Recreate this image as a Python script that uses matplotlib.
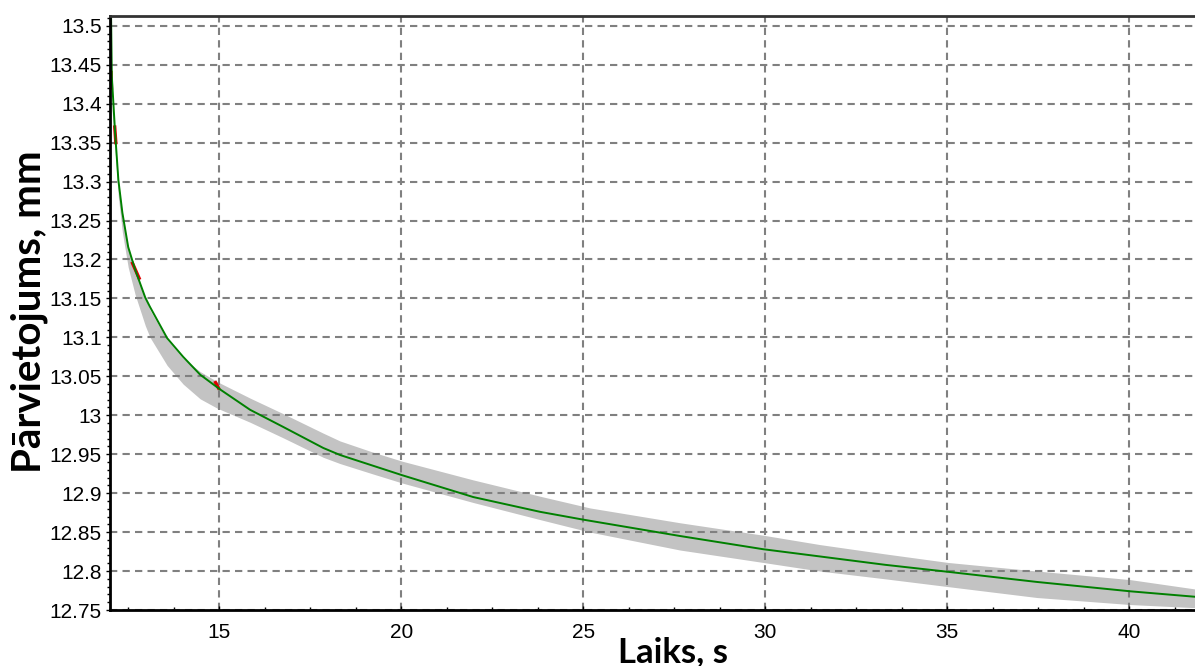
"""
Displacement vs time: measured band (gray) with fitted curve (green)
"""

import numpy as np
import matplotlib
matplotlib.use('Agg')
from matplotlib import pyplot as plt
from matplotlib.ticker import MultipleLocator, AutoMinorLocator, FuncFormatter

# fitted curve
fit_t = [12.03, 12.05, 12.14, 12.23, 12.34, 12.5, 12.69, 12.97, 13.10, 13.57,
         14.01, 14.48, 15.03, 15.85, 16.76, 17.86, 18.32, 20.03, 21.98, 23.82,
         25.0, 27.66, 29.95, 30.96, 33.3, 35.03, 37.47, 40.03, 41.81]
fit_d = [13.511, 13.435, 13.363, 13.302, 13.26, 13.216, 13.187, 13.151, 13.139, 13.099,
         13.075, 13.052, 13.033, 13.007, 12.985, 12.958, 12.949, 12.923, 12.895, 12.876,
         12.866, 12.845, 12.828, 12.822, 12.808, 12.799, 12.786, 12.774, 12.767]

# measured signal envelope (gray band)
meas_t = [12.06, 12.14, 12.23, 12.34, 12.5, 12.69, 12.97, 13.1, 13.57, 14.01,
          14.48, 14.95, 15.85, 16.76, 17.86, 18.32, 19.2, 20.03, 21.98, 23.82, 25.19,
          27.66, 29.95, 31.5, 33.3, 35.03, 37.47, 40.03, 41.81]
meas_hi = [13.41, 13.36, 13.30, 13.26, 13.215, 13.185, 13.15, 13.135, 13.097, 13.073,
           13.056, 13.043, 13.022, 13.002, 12.977, 12.967, 12.953, 12.941, 12.917, 12.896, 12.881,
           12.862, 12.846, 12.834, 12.822, 12.811, 12.800, 12.789, 12.777]
meas_lo = [13.39, 13.34, 13.28, 13.235, 13.19, 13.155, 13.115, 13.100, 13.064, 13.040,
           13.021, 13.009, 12.991, 12.971, 12.946, 12.938, 12.925, 12.913, 12.888, 12.866, 12.850,
           12.827, 12.811, 12.800, 12.790, 12.780, 12.766, 12.757, 12.753]

# short red pieces peeking out under the fit
red_t = [12.03, 12.04, np.nan, 12.13, 12.16, np.nan, 12.62, 12.8, np.nan, 14.9, 14.98]
red_d = [13.44, 13.42, np.nan, 13.37, 13.35, np.nan, 13.195, 13.176, np.nan, 13.042, 13.035]

plt.rcParams['font.family'] = ['Liberation Sans', 'DejaVu Sans']

fig = plt.figure(figsize=(11.95, 6.66), dpi=100)
ax = fig.add_axes([110/1195, 1 - 610/666, 1 - 110/1195, (610 - 15.5)/666])

ax.fill_between(meas_t, meas_lo, meas_hi, color='#c3c3c3', linewidth=0, zorder=1)
ax.plot(red_t, red_d, color='#e00000', linewidth=2.4, zorder=1.8)
ax.plot(fit_t, fit_d, color='#008000', linewidth=1.4, zorder=2)

ax.set_xlim(12.0, 41.81)
ax.set_ylim(12.75, 13.5132)

ax.xaxis.set_major_locator(MultipleLocator(5))
ax.xaxis.set_minor_locator(AutoMinorLocator(4))
ax.yaxis.set_major_locator(MultipleLocator(0.05))
ax.yaxis.set_minor_locator(AutoMinorLocator(5))
ax.yaxis.set_major_formatter(FuncFormatter(lambda v, p: f"{v:.2f}".rstrip('0').rstrip('.')))

ax.set_axisbelow('line')
ax.grid(True, which='major', color='#808080', linestyle=(0, (3.5, 2.5)), linewidth=1.5)

ax.tick_params(axis='y', which='major', direction='out', length=3, width=1, pad=3, labelsize=15)
ax.tick_params(axis='y', which='minor', direction='out', length=2, width=1)
ax.tick_params(axis='x', which='major', direction='in', length=3, width=1, pad=9, labelsize=15)
ax.tick_params(axis='x', which='minor', direction='in', length=2, width=1)

for side in ['left', 'bottom']:
    ax.spines[side].set_linewidth(2)
    ax.spines[side].set_color('black')
ax.spines['top'].set_linewidth(2)
ax.spines['top'].set_color('#333333')
ax.spines['right'].set_visible(False)

fig.text(29/1195, 1 - 312/666, 'Pārvietojums, mm', rotation=90, ha='center', va='center',
         fontsize=29, fontweight='bold', family=['Lato', 'DejaVu Sans'])
fig.text(673/1195, 1 - 662/666, 'Laiks, s', ha='center', va='baseline',
         fontsize=25, fontweight='bold', family=['Lato', 'DejaVu Sans'])

fig.savefig('out.png', dpi=100)
